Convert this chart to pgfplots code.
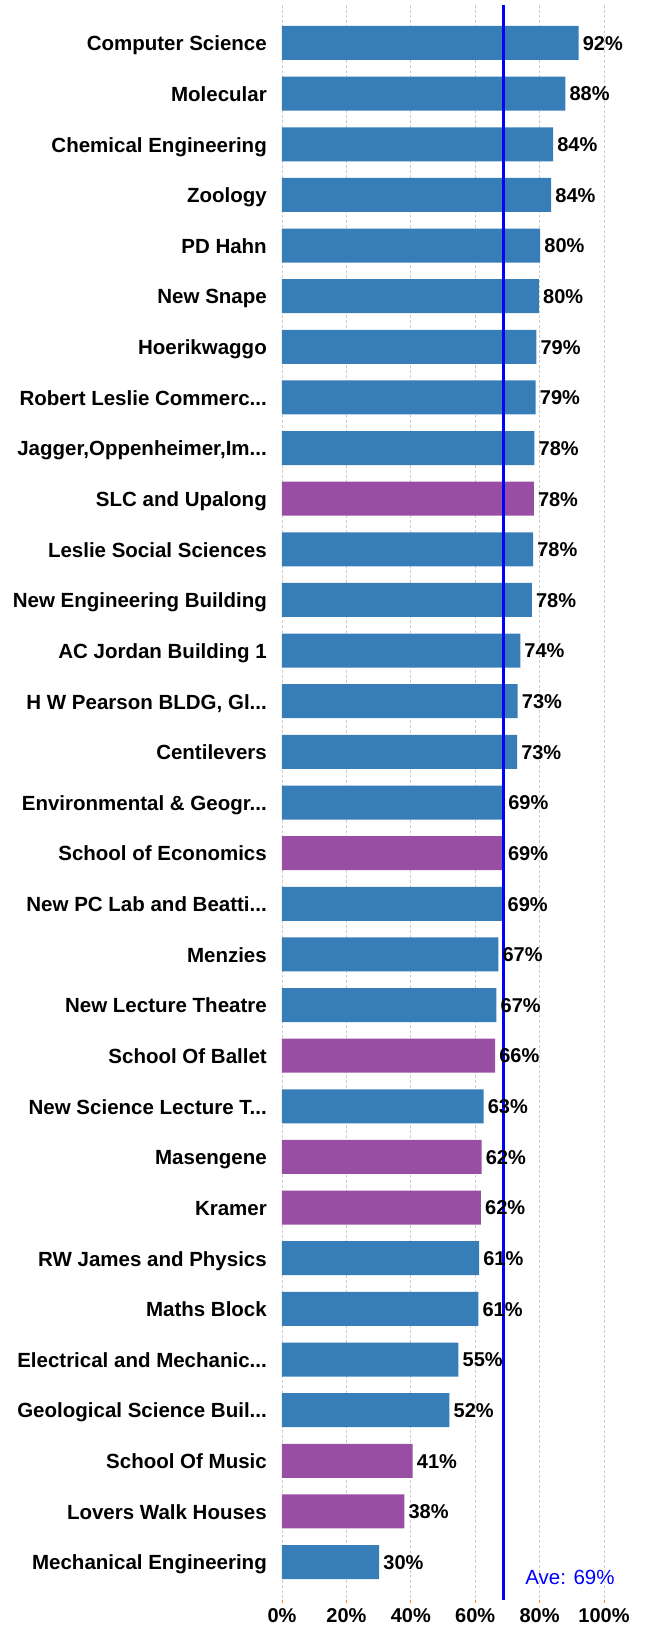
\documentclass[border=0pt]{standalone}
\usepackage{fontspec}
\setmainfont{Liberation Sans}
\usepackage{pgfplots}
\usepackage{pgfplotstable}
\pgfplotsset{compat=1.18}
\definecolor{barblue}{HTML}{377EB8}
\definecolor{barpurple}{HTML}{984EA3}
\definecolor{gridgray}{HTML}{CCCCCC}
\newcommand{\el}{.{}.{}.}

\pgfplotstableread{
y x
0 92.1
1 88.0
2 84.2
3 83.6
4 80.2
5 79.8
6 79.0
7 78.8
8 78.4
10 78.0
11 77.6
12 74.0
13 73.2
14 73.0
15 69.0
17 68.8
18 67.2
19 66.6
21 62.6
24 61.2
25 61.0
26 54.8
27 52.0
30 30.2
}\bluedata

\pgfplotstableread{
y x
9 78.2
16 68.9
20 66.2
22 62.0
23 61.8
28 40.6
29 38.0
}\purpledata

\begin{document}
\begin{tikzpicture}
\begin{axis}[
  scale only axis,
  width=322pt, height=1595pt,
  xmin=0, xmax=100,
  ymin=-0.75, ymax=30.75,
  y dir=reverse,
  clip=false,
  axis line style={draw=none},
  xtick={0,20,40,60,80,100},
  xticklabels={0\%,20\%,40\%,60\%,80\%,100\%},
  xtick pos=bottom,
  tick align=outside,
  major tick length=3pt,
  x tick style={color=orange, line width=0.8pt},
  ytick={0,1,2,3,4,5,6,7,8,9,10,11,12,13,14,15,16,17,18,19,20,21,22,23,24,25,26,27,28,29,30},
  yticklabels={Computer Science, Molecular, Chemical Engineering, Zoology, PD Hahn, New Snape, Hoerikwaggo, {Robert Leslie Commerc\el}, {Jagger,Oppenheimer,Im\el}, SLC and Upalong, Leslie Social Sciences, New Engineering Building, AC Jordan Building 1, {H W Pearson BLDG, Gl\el}, Centilevers, {Environmental \& Geogr\el}, School of Economics, {New PC Lab and Beatti\el}, Menzies, New Lecture Theatre, School Of Ballet, {New Science Lecture T\el}, Masengene, Kramer, RW James and Physics, Maths Block, {Electrical and Mechanic\el}, {Geological Science Buil\el}, School Of Music, Lovers Walk Houses, Mechanical Engineering},
  y tick style={draw=none},
  xmajorgrids,
  major x grid style={color=gridgray, dash pattern=on 3pt off 2pt, line width=0.8pt},
  xticklabel style={font=\fontsize{20}{24}\selectfont\bfseries, inner sep=0pt, anchor=north, yshift=-5pt},
  yticklabel style={font=\fontsize{20.5}{24}\selectfont\bfseries, inner sep=0pt, anchor=base east, xshift=-12pt, yshift=-7.8pt},
]
\addplot[xbar, bar width=34pt, bar shift=0pt, fill=barblue, draw=none,
  point meta=x,
  nodes near coords={\pgfmathprintnumber[fixed,precision=0,assume math mode=true]{\pgfplotspointmeta}\%},
  every node near coord/.append style={font=\fontsize{20}{24}\selectfont\bfseries, anchor=base west, inner sep=0pt, xshift=4pt, yshift=-7.3pt, text=black}]
  table[x=x,y=y]{\bluedata};
\addplot[xbar, bar width=34pt, bar shift=0pt, fill=barpurple, draw=none,
  point meta=x,
  nodes near coords={\pgfmathprintnumber[fixed,precision=0,assume math mode=true]{\pgfplotspointmeta}\%},
  every node near coord/.append style={font=\fontsize{20}{24}\selectfont\bfseries, anchor=base west, inner sep=0pt, xshift=4pt, yshift=-7.3pt, text=black}]
  table[x=x,y=y]{\purpledata};
\addplot[blue, line width=3pt] coordinates {(68.8,-0.75) (68.8,30.75)};
\node[anchor=west, text=blue, inner sep=0pt, font=\fontsize{20.5}{24}\selectfont] at (axis cs:75.5,30.3) {Ave: 69\%};
\end{axis}
\pgfresetboundingbox
\path[use as bounding box] (-282pt,-25pt) rectangle (363pt,1600pt);
\end{tikzpicture}
\end{document}
